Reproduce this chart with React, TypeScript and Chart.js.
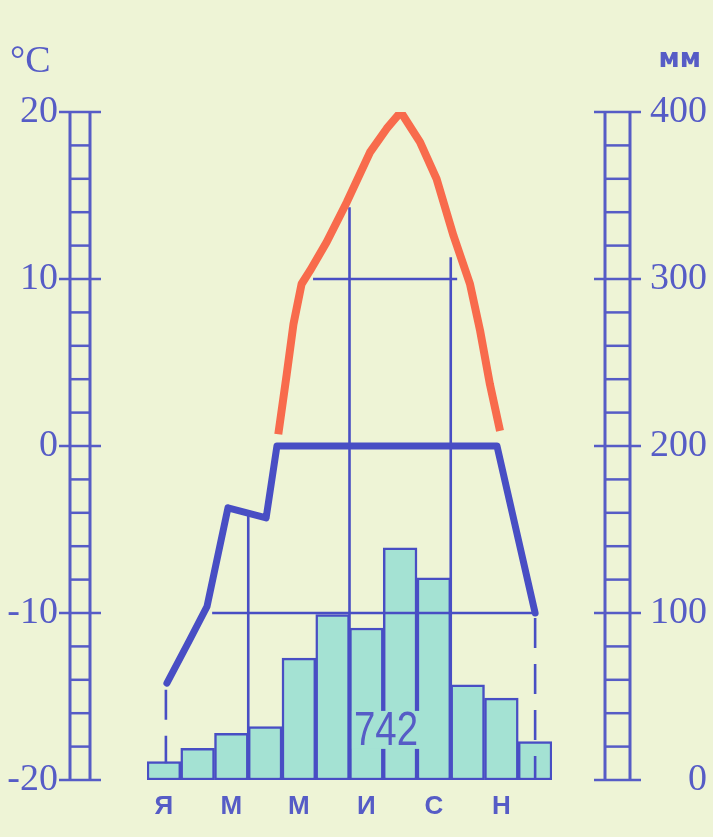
import React, { useEffect, useRef } from "react";
import { Chart, registerables } from "chart.js";

Chart.register(...registerables);

// ---------- data ----------
const monthInitials = ["Я", "Ф", "М", "А", "М", "И", "И", "А", "С", "О", "Н", "Д"];
const shownMonths = [0, 2, 4, 6, 8, 10];
const precipitation = [11, 19, 28, 32, 73, 99, 91, 139, 121, 57, 49, 23]; // mm
const annualTotal = "742";
const annualTotalAt = [7.08, 30]; // [month position, mm]
const tempTicks = [20, 10, 0, -10, -20];
const precipTicks = [400, 300, 200, 100, 0];
const tempUnit = "°C";
const precipUnit = "мм";

// curve positions: month position (0 = start of Jan, 12 = end of Dec), values in °C
const frostCurveX = [0.59, 1.27, 1.78, 2.4, 3.53, 3.85, 10.37, 11.5];
const frostCurveT = [-14.2, -11.6, -9.6, -3.7, -4.3, 0, 0, -10];
const warmCurveX = [3.89, 4.14, 4.34, 4.58, 4.83, 5.32, 5.92, 6.61, 7.1, 7.52, 8.09, 8.58, 9.08, 9.57, 9.87, 10.16, 10.46];
const warmCurveT = [0.7, 4.3, 7.3, 9.7, 10.5, 12.2, 14.6, 17.6, 19.0, 20.0, 18.2, 16.0, 12.6, 9.7, 6.9, 3.7, 0.9];

// threshold guides: [°C, from month, to month]
const guideH = [
  [10, 4.92, 9.19],
  [-10, 1.93, 11.5],
];
// vertical guides: [month, top °C, bottom °C]
const guideV = [
  [3, -4.0, -20],
  [6, 14.3, -20],
  [9, 11.3, -20],
];
const guideDashed = [
  [0.56, -14.6, -19],
  [11.5, -10.3, -20],
];

// ---------- styles ----------
const BG = "#eef4d6";
const BLUE = "#484ec4";
const BLUE_TEXT = "#565cc6";
const RED = "#f86b4c";
const TEAL = "#a4e2d3";

const decor = {
  id: "decor",
  beforeDraw(chart: any) {
    const { ctx, width, height } = chart;
    ctx.save();
    ctx.fillStyle = BG;
    ctx.fillRect(0, 0, width, height);
    ctx.restore();
  },
  afterDatasetsDraw(chart: any) {
    const { ctx } = chart;
    const x = chart.scales.x;
    const yP = chart.scales.yP;
    const cx = x.getPixelForValue(annualTotalAt[0]);
    const cy = yP.getPixelForValue(annualTotalAt[1]);
    const sx = 0.8;
    ctx.save();
    ctx.font = "48px 'Liberation Sans', sans-serif";
    const w = ctx.measureText(annualTotal).width * sx;
    ctx.fillStyle = TEAL;
    ctx.fillRect(cx - w / 2 - 2, cy - 19, w + 4, 38);
    ctx.translate(cx, cy);
    ctx.scale(sx, 1);
    ctx.fillStyle = BLUE_TEXT;
    ctx.textAlign = "center";
    ctx.textBaseline = "middle";
    ctx.fillText(annualTotal, 0, 2);
    ctx.restore();
  },
  afterDraw(chart: any) {
    const { ctx, chartArea } = chart;
    const x = chart.scales.x;
    const yT = chart.scales.yT;
    const yP = chart.scales.yP;
    ctx.save();
    ctx.strokeStyle = BLUE_TEXT;
    ctx.lineCap = "butt";

    const ladder = (l: number, r: number, scale: any, min: number, max: number, minor: number, major: number) => {
      const top = scale.getPixelForValue(max);
      const bot = scale.getPixelForValue(min);
      ctx.lineWidth = 3;
      ctx.beginPath();
      ctx.moveTo(l, top - 1);
      ctx.lineTo(l, bot + 1);
      ctx.moveTo(r, top - 1);
      ctx.lineTo(r, bot + 1);
      ctx.stroke();
      ctx.lineWidth = 2.5;
      for (let v = min; v <= max + 1e-9; v += minor) {
        const py = scale.getPixelForValue(v);
        const isMajor = Math.abs(v / major - Math.round(v / major)) < 1e-6;
        ctx.beginPath();
        if (isMajor) {
          ctx.moveTo(l - 11, py);
          ctx.lineTo(r + 11, py);
        } else {
          ctx.moveTo(l, py);
          ctx.lineTo(r, py);
        }
        ctx.stroke();
      }
    };

    const lL = chartArea.left - 77;
    const lR = chartArea.left - 57;
    ladder(lL, lR, yT, -20, 20, 2, 10);
    const rL = chartArea.right + 53;
    const rR = chartArea.right + 78;
    ladder(rL, rR, yP, 0, 400, 20, 100);

    ctx.fillStyle = BLUE_TEXT;
    ctx.font = "38px 'Liberation Serif', serif";
    ctx.textBaseline = "middle";
    ctx.textAlign = "right";
    tempTicks.forEach((t) => {
      const label = t < 0 ? "-" + Math.abs(t) : String(t);
      ctx.fillText(label, lL - 12, yT.getPixelForValue(t));
    });
    precipTicks.forEach((p) => {
      ctx.fillText(String(p), rR + 77, yP.getPixelForValue(p));
    });

    ctx.textAlign = "left";
    ctx.fillText(tempUnit, 10, 62);
    ctx.font = "bold 26px 'DejaVu Sans', sans-serif";
    ctx.textAlign = "right";
    ctx.fillText(precipUnit, rR + 71, 60);

    ctx.font = "bold 26px 'Liberation Sans', sans-serif";
    ctx.textAlign = "center";
    shownMonths.forEach((m) => {
      ctx.fillText(monthInitials[m], x.getPixelForValue(m + 0.5), chartArea.bottom + 27);
    });
    ctx.restore();
  },
};

const pts = (xs: number[], ys: number[]) => xs.map((v, i) => ({ x: v, y: ys[i] }));

export default function App() {
  const ref = useRef<HTMLCanvasElement | null>(null);
  useEffect(() => {
    if (!ref.current) return;
    const thin = (data: any[], dash: number[] = []) => ({
      type: "line" as const,
      data,
      yAxisID: "yT",
      borderColor: BLUE,
      borderWidth: 2.6,
      borderDash: dash,
      pointRadius: 0,
      tension: 0,
      fill: false,
      order: 2,
    });
    const datasets: any[] = [
      {
        type: "line",
        data: pts(warmCurveX, warmCurveT),
        yAxisID: "yT",
        borderColor: RED,
        borderWidth: 8,
        borderJoinStyle: "round",
        borderCapStyle: "butt",
        pointRadius: 0,
        tension: 0,
        fill: false,
        order: 0,
      },
      {
        type: "line",
        data: pts(frostCurveX, frostCurveT),
        yAxisID: "yT",
        borderColor: BLUE,
        borderWidth: 7,
        borderJoinStyle: "round",
        borderCapStyle: "round",
        pointRadius: 0,
        tension: 0,
        fill: false,
        order: 1,
      },
      ...guideH.map(([t, a, b]) => thin([{ x: a, y: t }, { x: b, y: t }])),
      ...guideV.map(([m, top, bot]) => thin([{ x: m, y: top }, { x: m, y: bot }])),
      ...guideDashed.map(([m, top, bot]) => thin([{ x: m, y: top }, { x: m, y: bot }], [30, 16])),
      {
        type: "bar",
        data: precipitation.map((v, i) => ({ x: i + 0.5, y: v })),
        yAxisID: "yP",
        backgroundColor: TEAL,
        borderColor: BLUE,
        borderWidth: 2.5,
        borderSkipped: false,
        barPercentage: 1,
        categoryPercentage: 1,
        order: 10,
      },
    ];
    const chart = new Chart(ref.current, {
      type: "bar",
      data: { datasets },
      options: {
        responsive: false,
        animation: false,
        layout: { padding: { left: 147, right: 161, top: 112, bottom: 57 } },
        plugins: { legend: { display: false }, tooltip: { enabled: false } },
        scales: {
          x: { type: "linear", min: 0, max: 12, display: false, ticks: { stepSize: 1 }, offset: false },
          yT: { type: "linear", position: "left", min: -20, max: 20, display: false },
          yP: { type: "linear", position: "right", min: 0, max: 400, display: false },
        },
      },
      plugins: [decor],
    } as any);
    return () => chart.destroy();
  }, []);
  return (
    <div style={{ position: "absolute", left: 0, top: 0, width: 713, height: 837, background: BG }}>
      <canvas ref={ref} width={713} height={837} />
    </div>
  );
}
